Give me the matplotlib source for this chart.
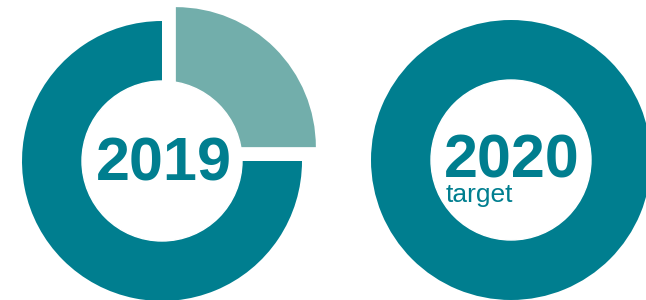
# Two donut charts: 2019 share vs 2020 target
import matplotlib.pyplot as plt

# data
labels_2019 = ['Other', 'Main']
share_2019 = [25, 75]
share_2020 = [100]
titles = ['2019', '2020']
sub_2020 = 'target'

dark = '#007e8f'
light = '#72aeab'

fig = plt.figure(figsize=(6.46, 3.0), dpi=100)
ax = fig.add_axes([0, 0, 1, 1])

# left donut (pixel coords, y measured from bottom)
c1 = (162, 139)
ax.pie(share_2019, colors=[light, dark], startangle=90, counterclock=False,
       explode=[19.6, 0], center=c1, radius=140)
ax.add_patch(plt.Circle(c1, 80, color='white', zorder=3))

# right donut
c2 = (511, 140)
ax.pie(share_2020, colors=[dark], startangle=90, center=c2, radius=140)
ax.add_patch(plt.Circle(c2, 80, color='white', zorder=3))

# labels in the middle
ax.text(163.5, 135, titles[0], ha='center', va='center', fontsize=44,
        fontweight='bold', color=dark, family='Liberation Sans', zorder=4)
ax.text(512, 122, titles[1], ha='center', va='baseline', fontsize=44,
        fontweight='bold', color=dark, family='Liberation Sans', zorder=4)
ax.text(446, 98, sub_2020, ha='left', va='baseline', fontsize=19,
        color=dark, family='Liberation Sans', zorder=4)

ax.set_xlim(0, 646)
ax.set_ylim(0, 300)
ax.set_aspect('equal')
ax.axis('off')

fig.savefig('out.png', dpi=100)
